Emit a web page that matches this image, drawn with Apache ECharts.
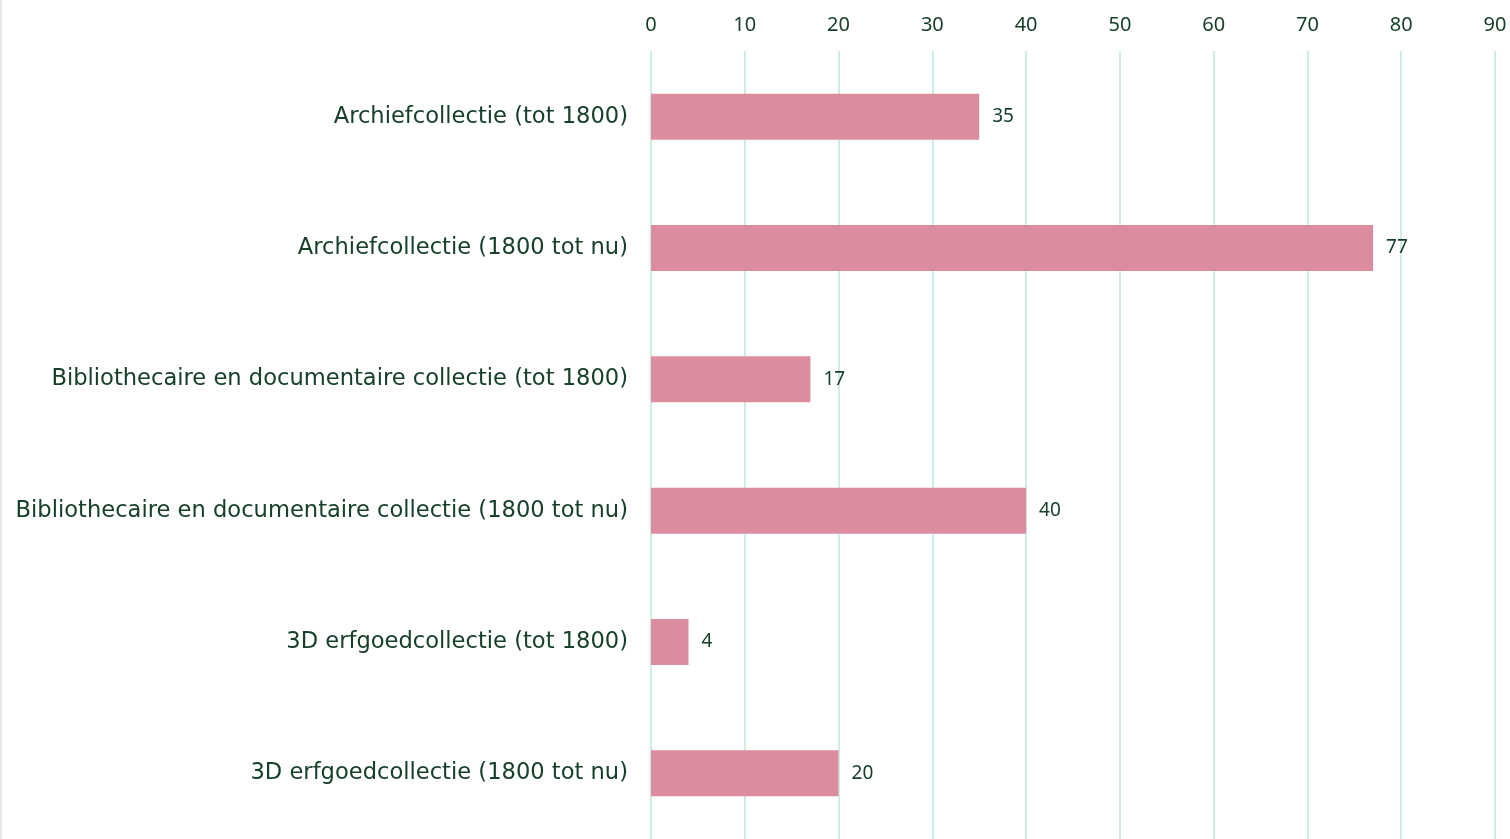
<!DOCTYPE html>
<html><head><meta charset="utf-8">
<script src="https://cdn.jsdelivr.net/npm/echarts@6/dist/echarts.min.js"></script>
<style>html,body{margin:0;padding:0;background:#fff;}#c{width:1510px;height:839px;box-sizing:border-box;border-left:2px solid #e6e8e4;}</style>
</head><body><div id="c"></div>
<script>
const categories = [
  "Archiefcollectie (tot 1800)",
  "Archiefcollectie (1800 tot nu)",
  "Bibliothecaire en documentaire collectie (tot 1800)",
  "Bibliothecaire en documentaire collectie (1800 tot nu)",
  "3D erfgoedcollectie (tot 1800)",
  "3D erfgoedcollectie (1800 tot nu)"
];
const values = [35, 77, 17, 40, 4, 20];
const axisMin = 0, axisMax = 90, axisStep = 10;

const chart = echarts.init(document.getElementById('c'));
chart.setOption({
  animation: false,
  grid: {left: 649, right: 15, top: 51, bottom: -2, containLabel: false},
  xAxis: {
    type: 'value', position: 'top', min: axisMin, max: axisMax, interval: axisStep,
    axisLine: {show: false}, axisTick: {show: false},
    axisLabel: {color: '#17402b', fontSize: 20, fontFamily: 'Noto Sans', margin: 16},
    splitLine: {show: true, lineStyle: {color: '#cfeee1', width: 2}}
  },
  yAxis: {
    type: 'category', data: categories, inverse: true,
    axisLine: {show: false}, axisTick: {show: false},
    axisLabel: {color: '#17402b', fontSize: 22.6, fontFamily: 'DejaVu Sans', margin: 23, padding: [8, 0, 0, 0]}
  },
  series: [{
    type: 'bar', data: values, barWidth: 46,
    itemStyle: {color: '#db8c9e'},
    label: {show: true, position: 'right', distance: 13, color: '#17402b', fontSize: 19, fontFamily: 'Noto Sans', padding: [6, 0, 0, 0]}
  }]
});
</script></body></html>
